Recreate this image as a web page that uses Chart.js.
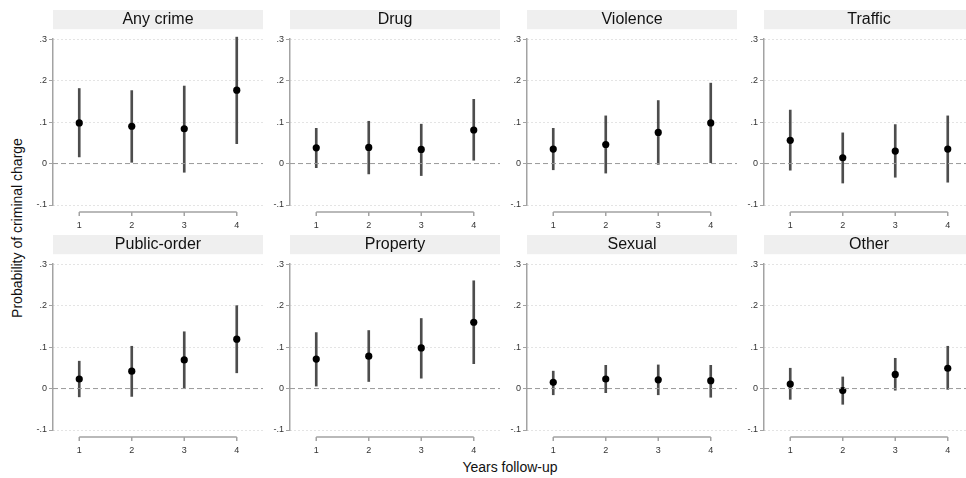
<!DOCTYPE html>
<html>
<head>
<meta charset="utf-8">
<script src="https://cdn.jsdelivr.net/npm/chart.js@4"></script>
<style>
  html, body { margin: 0; padding: 0; background: #fff; width: 966px; height: 478px; overflow: hidden; }
  body { position: relative; font-family: "Liberation Sans", Arial, sans-serif; }
  canvas { position: absolute; }
  .ytitle { position: absolute; left: 17px; top: 228px; transform: translate(-50%, -50%) rotate(-90deg); font-size: 14px; color: #111; white-space: nowrap; }
  .xtitle { position: absolute; left: 510px; top: 467px; transform: translate(-50%, -50%); font-size: 14px; color: #111; white-space: nowrap; }
</style>
</head>
<body>
<div class="ytitle">Probability of criminal charge</div>
<div class="xtitle">Years follow-up</div>

<script>
'use strict';

// panels, left to right, top to bottom
let crimeTypes = ['Any crime', 'Drug', 'Violence', 'Traffic', 'Public-order', 'Property', 'Sexual', 'Other'];
let years = ['1', '2', '3', '4'];

let estimates = [
    [0.098, 0.090, 0.084, 0.177],
    [0.038, 0.039, 0.034, 0.081],
    [0.035, 0.046, 0.075, 0.098],
    [0.056, 0.014, 0.030, 0.035],
    [0.023, 0.042, 0.069, 0.119],
    [0.071, 0.078, 0.098, 0.160],
    [0.015, 0.023, 0.021, 0.019],
    [0.011, -0.005, 0.034, 0.049]
];
let lowerCI = [
    [0.016, 0.003, -0.021, 0.048],
    [-0.010, -0.025, -0.029, 0.008],
    [-0.015, -0.023, -0.002, 0.002],
    [-0.016, -0.047, -0.033, -0.045],
    [-0.020, -0.019, 0.002, 0.038],
    [0.006, 0.017, 0.025, 0.060],
    [-0.015, -0.010, -0.015, -0.021],
    [-0.026, -0.038, -0.004, -0.002]
];
let upperCI = [
    [0.181, 0.176, 0.187, 0.305],
    [0.085, 0.102, 0.095, 0.155],
    [0.085, 0.115, 0.152, 0.194],
    [0.129, 0.074, 0.094, 0.115],
    [0.066, 0.102, 0.137, 0.200],
    [0.135, 0.140, 0.169, 0.260],
    [0.042, 0.056, 0.057, 0.056],
    [0.049, 0.028, 0.073, 0.102]
];

let yTickValues = [-0.1, 0, 0.1, 0.2, 0.3];
let yTickLabels = ['-.1', '0', '.1', '.2', '.3'];

const FONT = '"Liberation Sans", Arial, sans-serif';
const AXIS_GRAY = '#a3a3a3';

// grey strip behind the title, zero reference line and the detached x axis
const stataLook = {
    id: 'stataLook',
    beforeDraw(chart) {
        let ctx = chart.ctx;
        let area = chart.chartArea;
        let tb = chart.titleBlock;
        ctx.save();
        ctx.fillStyle = '#efefef';
        ctx.fillRect(area.left, tb.top + 10, area.right - area.left, tb.height - 20);
        ctx.restore();
    },
    afterDatasetsDraw(chart) {
        let ctx = chart.ctx;
        let area = chart.chartArea;
        let x = chart.scales.x;
        let y0 = chart.scales.y.getPixelForValue(0);
        ctx.save();
        ctx.strokeStyle = '#9a9a9a';
        ctx.lineWidth = 1;
        ctx.setLineDash([5, 3]);
        ctx.beginPath();
        ctx.moveTo(area.left, y0);
        ctx.lineTo(area.right, y0);
        ctx.stroke();
        ctx.restore();
    },
    afterDraw(chart) {
        let ctx = chart.ctx;
        let area = chart.chartArea;
        let x = chart.scales.x;
        let ay = area.bottom + 7;
        let x1 = x.getPixelForValue(0);
        let x4 = x.getPixelForValue(years.length - 1);
        ctx.save();
        ctx.strokeStyle = AXIS_GRAY;
        ctx.lineWidth = 1.5;
        ctx.beginPath();
        ctx.moveTo(x1, ay);
        ctx.lineTo(x4, ay);
        for (let i = 0; i < years.length; i++) {
            let px = x.getPixelForValue(i);
            ctx.moveTo(px, ay);
            ctx.lineTo(px, ay + 4);
        }
        ctx.stroke();
        ctx.restore();
    }
};

function makePanel(i) {
    let row = Math.floor(i / 4);
    let col = i % 4;
    let canvas = document.createElement('canvas');
    canvas.width = 270;
    canvas.height = 233;
    canvas.style.left = (23 + col * 237) + 'px';
    canvas.style.top = (row * 225) + 'px';
    document.body.appendChild(canvas);

    let ranges = [];
    for (let j = 0; j < years.length; j++) {
        ranges.push([lowerCI[i][j], upperCI[i][j]]);
    }

    new Chart(canvas.getContext('2d'), {
        data: {
            labels: years,
            datasets: [{
                type: 'line',
                data: estimates[i],
                showLine: false,
                pointRadius: 3.6,
                pointBackgroundColor: '#000',
                pointBorderColor: '#000',
                pointBorderWidth: 0,
                clip: false,
                order: 0
            }, {
                type: 'bar',
                data: ranges,
                barThickness: 2,
                backgroundColor: '#4d4d4d',
                borderWidth: 0,
                clip: false,
                order: 1
            }]
        },
        options: {
            responsive: false,
            animation: false,
            devicePixelRatio: 1,
            layout: { padding: 0 },
            plugins: {
                legend: { display: false },
                tooltip: { enabled: false },
                title: {
                    display: true,
                    text: crimeTypes[i],
                    color: '#111',
                    font: { family: FONT, size: 16, weight: 'normal', lineHeight: 1.2 },
                    padding: { top: 10, bottom: 10 }
                }
            },
            scales: {
                x: {
                    type: 'category',
                    offset: true,
                    grid: { display: false, drawTicks: false },
                    border: { display: false },
                    ticks: { color: '#333', font: { family: FONT, size: 9 }, padding: 15, maxRotation: 0 },
                    afterFit: s => { s.height = 28; }
                },
                y: {
                    type: 'linear',
                    min: -0.1,
                    max: 0.3,
                    afterBuildTicks: s => { s.ticks = yTickValues.map(v => ({ value: v })); },
                    ticks: {
                        color: '#333',
                        font: { family: FONT, size: 9 },
                        padding: 2,
                        callback: (v, idx) => yTickLabels[idx]
                    },
                    grid: {
                        color: c => (c.tick && c.tick.value === 0) ? 'rgba(0,0,0,0)' : '#c8c8c8',
                        lineWidth: 1,
                        tickLength: 4,
                        tickColor: AXIS_GRAY,
                        tickWidth: 1
                    },
                    border: { display: true, color: AXIS_GRAY, width: 1.5, dash: [1, 3] },
                    afterFit: s => { s.width = 30; }
                },
                yRight: {
                    type: 'linear',
                    position: 'right',
                    display: true,
                    grid: { display: false, drawTicks: false },
                    border: { display: false },
                    ticks: { display: false },
                    afterFit: s => { s.width = 30; }
                }
            }
        },
        plugins: [stataLook]
    });
}

for (let i = 0; i < crimeTypes.length; i++) {
    makePanel(i);
}
</script>
</body>
</html>
